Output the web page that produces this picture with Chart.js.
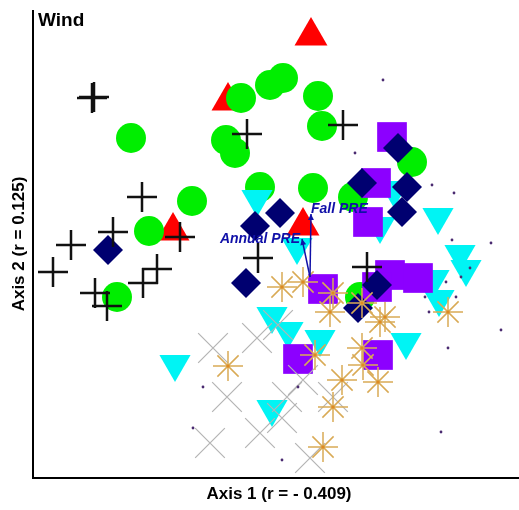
<!DOCTYPE html>
<html>
<head>
<meta charset="utf-8">
<script src="https://cdn.jsdelivr.net/npm/chart.js@4"></script>
<style>
  html, body { margin: 0; padding: 0; background: #fff; overflow: hidden; }
  #wrap { width: 519px; height: 510px; }
</style>
</head>
<body>
<div id="wrap"><canvas id="ordination"></canvas></div>
<script>
// Sample scores on the two ordination axes (arbitrary units)
const greenCircles = [[98,340],[208,380],[237,393],[250,400],[285,382],[289,352],[193,338],[202,325],
  [379,316],[159,277],[116,247],[227,291],[280,290],[320,281],[84,181],[327,181]];
const redTriangles = [[278,442],[195,377],[140,247],[270,252]];
const cyanTriangles = [[224,279],[264,231],[405,261],[427,224],[433,209],[401,199],[406,179],[373,136],
  [239,162],[255,147],[287,139],[239,69],[142,114],[347,252],[361,288]];
const purpleSquares = [[359,341],[343,295],[335,256],[357,203],[385,200],[344,191],[290,189],[345,123],[265,119]];
const navyDiamonds = [[365,330],[329,295],[374,291],[369,266],[247,265],[222,252],[213,195],[75,228],[344,193],[325,170]];
const blackCrosses = [[59,380],[61,381],[214,344],[310,353],[109,281],[80,246],[38,233],[147,241],[20,206],
  [62,185],[74,172],[110,195],[124,209],[225,220],[334,211]];
const grayX = [[180,130],[224,140],[245,153],[194,81],[177,35],[227,45],[254,81],[249,60],[300,81],[277,20],[270,98]];
const goldStars = [[195,112],[249,191],[270,196],[300,185],[297,166],[329,175],[352,161],[347,156],[282,123],
  [329,130],[330,113],[345,96],[309,98],[300,71],[290,31],[415,166]];
const smallDots = [[350,398],[322,325],[399,293],[421,285],[419,238],[458,235],[437,210],[428,201],[413,196],
  [392,181],[396,166],[423,181],[468,148],[415,130],[408,46],[170,91],[160,50],[249,18],[265,91]];

// Environmental vectors
const vectorOrigin = [277, 201];
const vectorNames = ['Fall PRE', 'Annual PRE'];
const vectorTips = [[278, 264], [269, 239]];

const toXY = arr => arr.map(p => ({ x: p[0], y: p[1] }));

const decor = {
  id: 'decor',
  beforeDatasetsDraw(chart) {
    const ctx = chart.ctx;
    const a = chart.chartArea;
    ctx.save();
    ctx.strokeStyle = '#000';
    ctx.lineWidth = 2;
    ctx.beginPath();
    ctx.moveTo(a.left, a.top);
    ctx.lineTo(a.left, a.bottom);
    ctx.lineTo(a.right, a.bottom);
    ctx.stroke();

    ctx.fillStyle = '#000';
    ctx.font = 'bold 19px "Liberation Sans", Arial, sans-serif';
    ctx.textBaseline = 'alphabetic';
    ctx.textAlign = 'left';
    ctx.fillText('Wind', a.left + 5, a.top + 16);

    ctx.font = 'bold 17px "Liberation Sans", Arial, sans-serif';
    ctx.textAlign = 'center';
    ctx.textBaseline = 'middle';
    ctx.fillText('Axis 1 (r = - 0.409)', 279, 494);
    ctx.translate(19, 244);
    ctx.rotate(-Math.PI / 2);
    ctx.fillText('Axis 2 (r = 0.125)', 0, 0);
    ctx.restore();
  },
  afterDatasetsDraw(chart) {
    const ctx = chart.ctx;
    const xs = chart.scales.x, ys = chart.scales.y;
    const ox = xs.getPixelForValue(vectorOrigin[0]);
    const oy = ys.getPixelForValue(vectorOrigin[1]);
    ctx.save();
    ctx.strokeStyle = '#1010a8';
    ctx.fillStyle = '#1010a8';
    ctx.lineWidth = 1.5;
    vectorTips.forEach((t, i) => {
      const tx = xs.getPixelForValue(t[0]);
      const ty = ys.getPixelForValue(t[1]);
      ctx.beginPath();
      ctx.moveTo(ox, oy);
      ctx.lineTo(tx, ty);
      ctx.stroke();
      const ang = Math.atan2(ty - oy, tx - ox);
      ctx.beginPath();
      ctx.moveTo(tx, ty);
      ctx.lineTo(tx - 6 * Math.cos(ang) + 3 * Math.sin(ang), ty - 6 * Math.sin(ang) - 3 * Math.cos(ang));
      ctx.lineTo(tx - 6 * Math.cos(ang) - 3 * Math.sin(ang), ty - 6 * Math.sin(ang) + 3 * Math.cos(ang));
      ctx.closePath();
      ctx.fill();

      ctx.font = 'italic bold 14px "Liberation Sans", Arial, sans-serif';
      ctx.textBaseline = 'middle';
      if (i === 0) {
        ctx.textAlign = 'left';
        ctx.fillText(vectorNames[i], tx, ty - 5);
      } else {
        ctx.textAlign = 'right';
        ctx.fillText(vectorNames[i], tx - 2, ty);
      }
    });
    ctx.restore();
  }
};

const ctx = document.getElementById('ordination').getContext('2d');

new Chart(ctx, {
  type: 'scatter',
  data: {
    datasets: [
      { data: toXY(smallDots), order: 0, pointStyle: 'circle', pointRadius: 1.4,
        backgroundColor: '#4a2a70', borderWidth: 0 },
      { data: toXY(blackCrosses), order: 1, pointStyle: 'cross', pointRadius: 15,
        borderColor: '#111', borderWidth: 2.5 },
      { data: toXY(goldStars), order: 2, pointStyle: 'circle', pointRadius: 1.6,
        backgroundColor: '#e08a20', borderWidth: 0 },
      { data: toXY(goldStars), order: 3, pointStyle: 'star', pointRadius: 15,
        borderColor: '#d9aa55', borderWidth: 1.5 },
      { data: toXY(grayX), order: 4, pointStyle: 'crossRot', pointRadius: 21,
        borderColor: '#b4b4b4', borderWidth: 1.2 },
      { data: toXY(navyDiamonds), order: 5, pointStyle: 'rectRot', pointRadius: 15,
        backgroundColor: '#000070', borderWidth: 0 },
      { data: toXY(purpleSquares), order: 6, pointStyle: 'rect', pointRadius: 21,
        backgroundColor: '#8c00ff', borderWidth: 0 },
      { data: toXY(cyanTriangles), order: 7, pointStyle: 'triangle', pointRadius: 18, pointRotation: 180,
        backgroundColor: '#00f4f4', borderWidth: 0 },
      { data: toXY(greenCircles), order: 8, pointStyle: 'circle', pointRadius: 15,
        backgroundColor: '#00ee00', borderWidth: 0 },
      { data: toXY(redTriangles), order: 9, pointStyle: 'triangle', pointRadius: 19,
        backgroundColor: '#ff0000', borderWidth: 0 }
    ]
  },
  options: {
    responsive: true,
    maintainAspectRatio: false,
    animation: false,
    devicePixelRatio: 1,
    layout: { autoPadding: false, padding: { left: 33, right: 0, top: 10, bottom: 32 } },
    scales: {
      x: { type: 'linear', min: 0, max: 486, display: false },
      y: { type: 'linear', min: 0, max: 468, display: false }
    },
    plugins: {
      legend: { display: false },
      tooltip: { enabled: false }
    },
    events: []
  },
  plugins: [decor]
});
</script>
</body>
</html>
